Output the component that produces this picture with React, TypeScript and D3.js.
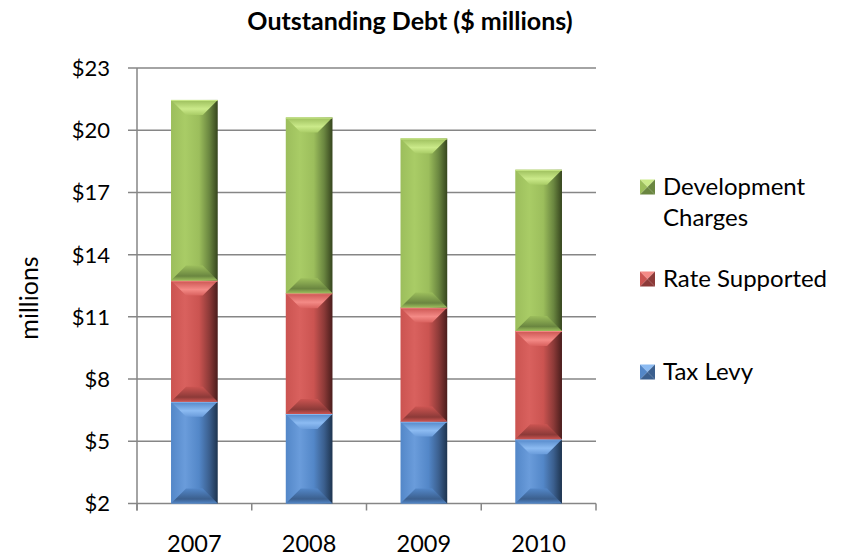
import React from "react";
import * as d3 from "d3";

const years = ["2007", "2008", "2009", "2010"];
const taxLevy = [6.91, 6.32, 5.95, 5.1];
const rateSupported = [5.84, 5.82, 5.5, 5.22];
const developmentCharges = [8.71, 8.47, 8.15, 7.77];
const yTicks = [2, 5, 8, 11, 14, 17, 20, 23];
const seriesNames = ["Tax Levy", "Rate Supported", "Development Charges"];

const palette: Record<string, { base: string; light: string; top: string; bottom: string; edge: string }> = {
  "Tax Levy": { base: "#5387C8", light: "#6A9CDB", top: "#8CBBF2", bottom: "#3B5F8E", edge: "#1E344F" },
  "Rate Supported": { base: "#CB5451", light: "#D9615E", top: "#F48A86", bottom: "#8C3A38", edge: "#4A1D1C" },
  "Development Charges": { base: "#9CBE5C", light: "#A9CC66", top: "#CBEA8A", bottom: "#6A8640", edge: "#36451E" },
};

const W = 850;
const H = 557;
const plot = { left: 137, right: 596, top: 68, bottom: 503.5 };
const FONT = "Lato, 'Open Sans', 'DejaVu Sans', sans-serif";

export default function App() {
  const x = d3.scaleBand<string>().domain(years).range([plot.left, plot.right]).paddingInner(0.593).paddingOuter(0.2965);
  const y = d3.scaleLinear().domain([2, 23]).range([plot.bottom, plot.top]);

  const table = years.map((yr, i) => ({
    year: yr,
    "Tax Levy": taxLevy[i],
    "Rate Supported": rateSupported[i],
    "Development Charges": developmentCharges[i],
  }));
  const stack = d3.stack<any>().keys(seriesNames);
  const layers = stack(table);

  const band = (plot.right - plot.left) / years.length;
  const bevel = 15;

  const bars: React.ReactNode[] = [];
  layers.forEach((layer) => {
    const key = layer.key;
    const c = palette[key];
    const id = key.replace(/ /g, "");
    layer.forEach((d, i) => {
      const x0 = x(years[i])!;
      const bw = x.bandwidth();
      const y0 = y(Math.max(d[0], 2));
      const y1 = y(d[1]);
      const h = y0 - y1;
      const b = Math.min(bevel, h / 2);
      const ib = Math.min(bevel, bw / 2);
      bars.push(
        <g key={key + i}>
          <rect x={x0} y={y1} width={bw} height={h} fill={`url(#h-${id})`} />
          <polygon
            points={`${x0},${y1} ${x0 + bw},${y1} ${x0 + bw - ib},${y1 + b} ${x0 + ib},${y1 + b}`}
            fill={`url(#t-${id})`}
          />
          <polygon
            points={`${x0},${y0} ${x0 + bw},${y0} ${x0 + bw - ib},${y0 - b} ${x0 + ib},${y0 - b}`}
            fill={`url(#b-${id})`}
          />
          <line x1={x0} x2={x0 + bw} y1={y1 + 0.5} y2={y1 + 0.5} stroke={c.top} strokeWidth={1} />
        </g>
      );
    });
  });

  const legendItems = [
    { key: "Development Charges", lines: ["Development", "Charges"], cy: 187, base: 195 },
    { key: "Rate Supported", lines: ["Rate Supported"], cy: 279, base: 287 },
    { key: "Tax Levy", lines: ["Tax Levy"], cy: 372, base: 380 },
  ];

  return (
    <svg width={W} height={H} style={{ position: "absolute", left: 0, top: 0, background: "#fff" }} fontFamily={FONT}>
      <defs>
        {seriesNames.map((k) => {
          const c = palette[k];
          const id = k.replace(/ /g, "");
          return (
            <React.Fragment key={id}>
              <linearGradient id={`h-${id}`} x1="0" x2="1" y1="0" y2="0">
                <stop offset="0" stopColor={c.base} />
                <stop offset="0.3" stopColor={c.light} />
                <stop offset="0.6" stopColor={c.base} />
                <stop offset="0.82" stopColor={c.bottom} />
                <stop offset="1" stopColor={c.edge} />
              </linearGradient>
              <linearGradient id={`t-${id}`} x1="0" x2="0" y1="0" y2="1">
                <stop offset="0" stopColor={c.base} />
                <stop offset="0.6" stopColor={c.top} />
                <stop offset="1" stopColor={c.light} />
              </linearGradient>
              <linearGradient id={`b-${id}`} x1="0" x2="0" y1="0" y2="1">
                <stop offset="0" stopColor={c.base} />
                <stop offset="0.7" stopColor={c.bottom} />
                <stop offset="1" stopColor={c.base} />
              </linearGradient>
            </React.Fragment>
          );
        })}
      </defs>

      <text x={410} y={30} textAnchor="middle" fontSize={25} fontWeight="bold" fill="#000">
        Outstanding Debt ($ millions)
      </text>

      {yTicks.map((t) => (
        <g key={t}>
          <line x1={plot.left - 9} x2={plot.right} y1={y(t)} y2={y(t)} stroke="#868686" strokeWidth={1.5} />
          <text x={110} y={y(t)} dy="0.36em" textAnchor="end" fontSize={22} fill="#000">
            ${t}
          </text>
        </g>
      ))}
      <line x1={plot.left} x2={plot.left} y1={plot.top} y2={plot.bottom + 7} stroke="#868686" strokeWidth={1.5} />
      {d3.range(years.length + 1).map((i) => (
        <line
          key={"xt" + i}
          x1={plot.left + i * band}
          x2={plot.left + i * band}
          y1={plot.bottom}
          y2={plot.bottom + 7}
          stroke="#868686"
          strokeWidth={1.5}
        />
      ))}

      {bars}

      {years.map((yr) => (
        <text key={yr} x={x(yr)! + x.bandwidth() / 2} y={552} textAnchor="middle" fontSize={23.5} fill="#000">
          {yr}
        </text>
      ))}

      <text transform="translate(38,298) rotate(-90)" textAnchor="middle" fontSize={25} fill="#000">
        millions
      </text>

      {legendItems.map((it) => {
        const c = palette[it.key];
        const s = 15;
        const lx = 640;
        const ly = it.cy - s / 2;
        const cx = lx + s / 2;
        const cy = it.cy;
        return (
          <g key={it.key}>
            <polygon points={`${lx},${ly} ${lx + s},${ly} ${cx},${cy}`} fill={c.top} />
            <polygon points={`${lx},${ly} ${lx},${ly + s} ${cx},${cy}`} fill={c.base} />
            <polygon points={`${lx + s},${ly} ${lx + s},${ly + s} ${cx},${cy}`} fill={c.bottom} />
            <polygon points={`${lx},${ly + s} ${lx + s},${ly + s} ${cx},${cy}`} fill={c.bottom} />
            {it.lines.map((ln, j) => (
              <text key={j} x={663} y={it.base + j * 31} fontSize={24} fill="#000">
                {ln}
              </text>
            ))}
          </g>
        );
      })}
    </svg>
  );
}
